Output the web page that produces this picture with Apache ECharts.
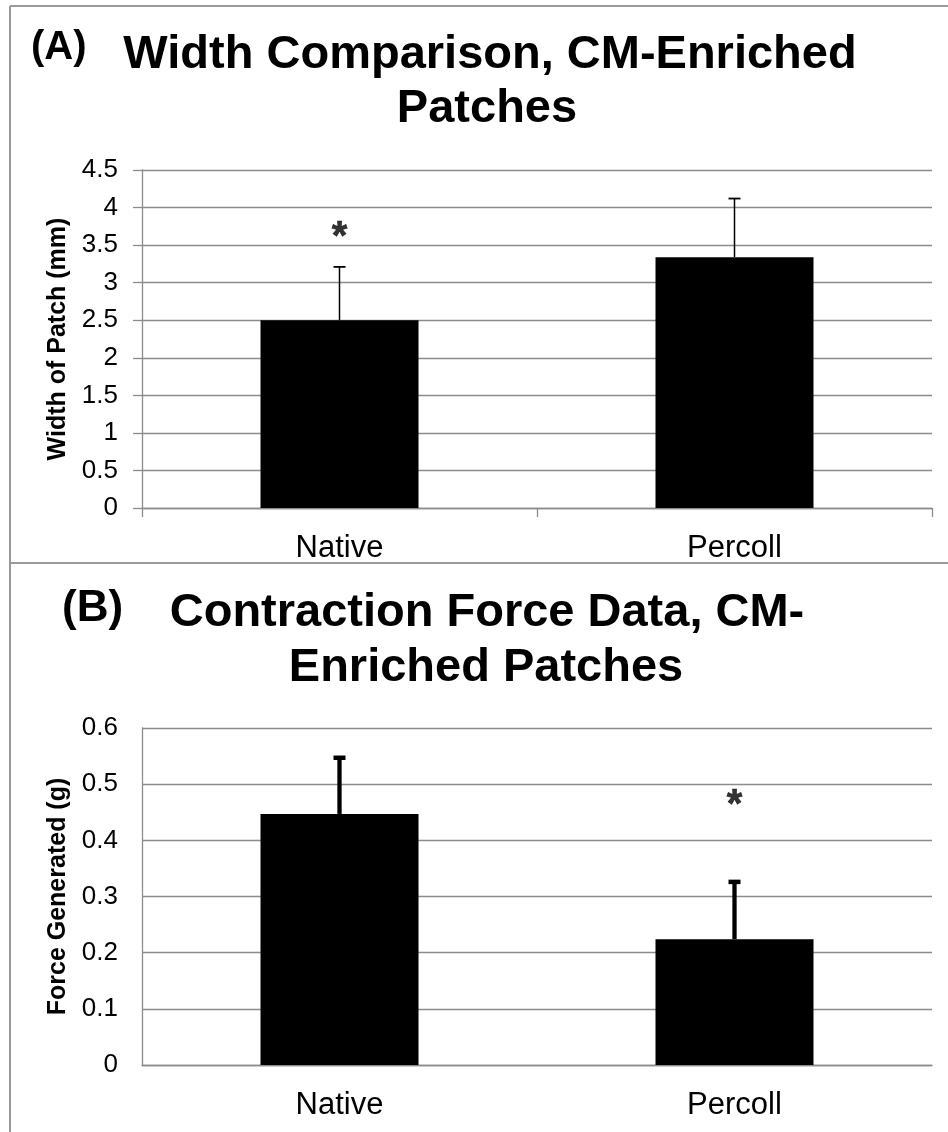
<!DOCTYPE html>
<html>
<head>
<meta charset="utf-8">
<title>CM-Enriched Patches</title>
<script src="https://cdn.jsdelivr.net/npm/echarts@6/dist/echarts.min.js"></script>
<style>
  html, body { margin: 0; padding: 0; background: #fff; }
  #chart { width: 948px; height: 1132px; }
</style>
</head>
<body>
<div id="chart"></div>
<script>
// Groups compared in both panels
const categories = ['Native', 'Percoll'];

// (A) Patch width, mm: means and standard deviations
const widthMeans = [2.50, 3.34];
const widthErrors = [0.71, 0.78];
const widthTicks = { min: 0, max: 4.5, interval: 0.5 };
// significance marker per group ('' = none) and the height it sits at
const widthSig = ['*', ''];
const widthSigLevel = [3.6, null];

// (B) Contraction force, g: means and standard deviations
const forceMeans = [0.447, 0.224];
const forceErrors = [0.100, 0.102];
const forceTicks = { min: 0, max: 0.6, interval: 0.1 };
const forceSig = ['', '*'];
const forceSigLevel = [null, 0.461];

const FONT = '"Liberation Sans", Arial, Helvetica, sans-serif';
const GRID_GRAY = '#8c8c8c';
const BORDER_GRAY = '#9a9a9a';

function errorBarSeries(gridIdx, means, errors, lineW, capW, capH) {
  return {
    type: 'custom',
    xAxisIndex: gridIdx,
    yAxisIndex: gridIdx,
    z: 5,
    data: means.map((m, i) => [i, m, m + errors[i]]),
    renderItem: function (params, api) {
      const base = api.coord([api.value(0), api.value(1)]);
      const top = api.coord([api.value(0), api.value(2)]);
      return {
        type: 'group',
        children: [
          {
            type: 'line',
            shape: { x1: base[0], y1: base[1], x2: top[0], y2: top[1] },
            style: { stroke: '#000', lineWidth: lineW }
          },
          {
            type: 'line',
            shape: { x1: top[0] - capW / 2, y1: top[1], x2: top[0] + capW / 2, y2: top[1] },
            style: { stroke: '#000', lineWidth: capH }
          }
        ]
      };
    }
  };
}

function sigSeries(gridIdx, marks, levels) {
  return {
    type: 'scatter',
    xAxisIndex: gridIdx,
    yAxisIndex: gridIdx,
    symbolSize: 0,
    silent: true,
    z: 6,
    data: marks.map((s, i) => ({ value: [i, levels[i]], mark: s })).filter(d => d.mark),
    label: {
      show: true,
      position: 'inside',
      formatter: p => p.data.mark,
      color: '#000',
      textBorderColor: '#000',
      textBorderWidth: 0.6,
      fontFamily: FONT,
      fontWeight: 'bold',
      fontSize: 40
    }
  };
}

function valueAxis(gridIdx, ticks, name, showTicks) {
  return {
    type: 'value',
    gridIndex: gridIdx,
    min: ticks.min,
    max: ticks.max,
    interval: ticks.interval,
    name: name,
    nameLocation: 'middle',
    nameGap: 69,
    nameTextStyle: { fontFamily: FONT, fontWeight: 'bold', fontSize: 25, color: '#000' },
    axisLine: { show: true, lineStyle: { color: GRID_GRAY, width: 1.3 } },
    axisTick: { show: showTicks, length: 9, lineStyle: { color: GRID_GRAY, width: 1.3 } },
    axisLabel: { margin: 24, fontFamily: FONT, fontSize: 26, color: '#000' },
    splitLine: { show: true, lineStyle: { color: GRID_GRAY, width: 1.3 } }
  };
}

function categoryAxis(gridIdx, showTicks) {
  return {
    type: 'category',
    gridIndex: gridIdx,
    data: categories,
    axisLine: { show: true, lineStyle: { color: GRID_GRAY, width: 1.3 } },
    axisTick: { show: showTicks, length: 9, alignWithLabel: false, lineStyle: { color: GRID_GRAY, width: 1.3 } },
    axisLabel: { margin: 25, fontFamily: FONT, fontSize: 31, color: '#000' }
  };
}

function titleText(text, x, y, size) {
  return {
    type: 'text',
    x: x, y: y,
    style: {
      text: text, fill: '#000',
      font: 'bold ' + size + 'px ' + FONT,
      align: 'center', verticalAlign: 'middle'
    }
  };
}

function panelLabel(text, x, y, size) {
  return {
    type: 'text',
    x: x, y: y,
    style: {
      text: text, fill: '#000',
      font: 'bold ' + size + 'px ' + FONT,
      align: 'left', verticalAlign: 'middle'
    }
  };
}

function borderLine(x1, y1, x2, y2) {
  return {
    type: 'line',
    shape: { x1: x1, y1: y1, x2: x2, y2: y2 },
    style: { stroke: BORDER_GRAY, lineWidth: 2 }
  };
}

const chart = echarts.init(document.getElementById('chart'));
chart.setOption({
  animation: false,
  backgroundColor: '#fff',
  grid: [
    { left: 142, top: 170, width: 790, height: 338, outerBoundsMode: 'none' },
    { left: 142, top: 728, width: 790, height: 337, outerBoundsMode: 'none' }
  ],
  xAxis: [categoryAxis(0, true), categoryAxis(1, false)],
  yAxis: [
    valueAxis(0, widthTicks, 'Width of Patch (mm)', true),
    valueAxis(1, forceTicks, 'Force Generated (g)', false)
  ],
  series: [
    {
      type: 'bar', xAxisIndex: 0, yAxisIndex: 0,
      data: widthMeans, barWidth: '40%',
      itemStyle: { color: '#000' }
    },
    errorBarSeries(0, widthMeans, widthErrors, 1.5, 12, 1.8),
    sigSeries(0, widthSig, widthSigLevel),
    {
      type: 'bar', xAxisIndex: 1, yAxisIndex: 1,
      data: forceMeans, barWidth: '40%',
      itemStyle: { color: '#000' }
    },
    errorBarSeries(1, forceMeans, forceErrors, 4.3, 12, 4.5),
    sigSeries(1, forceSig, forceSigLevel)
  ],
  graphic: [
    // panel frames
    borderLine(10, 6, 948, 6),
    borderLine(10, 6, 10, 1132),
    borderLine(10, 563, 948, 563),
    // panel (A) heading
    panelLabel('(A)', 31, 48, 40),
    titleText('Width Comparison, CM-Enriched', 490, 55, 47),
    titleText('Patches', 487, 109, 47),
    // panel (B) heading
    panelLabel('(B)', 62, 609, 44),
    titleText('Contraction Force Data, CM-', 487, 613, 47),
    titleText('Enriched Patches', 486, 668, 47)
  ]
});
</script>
</body>
</html>
